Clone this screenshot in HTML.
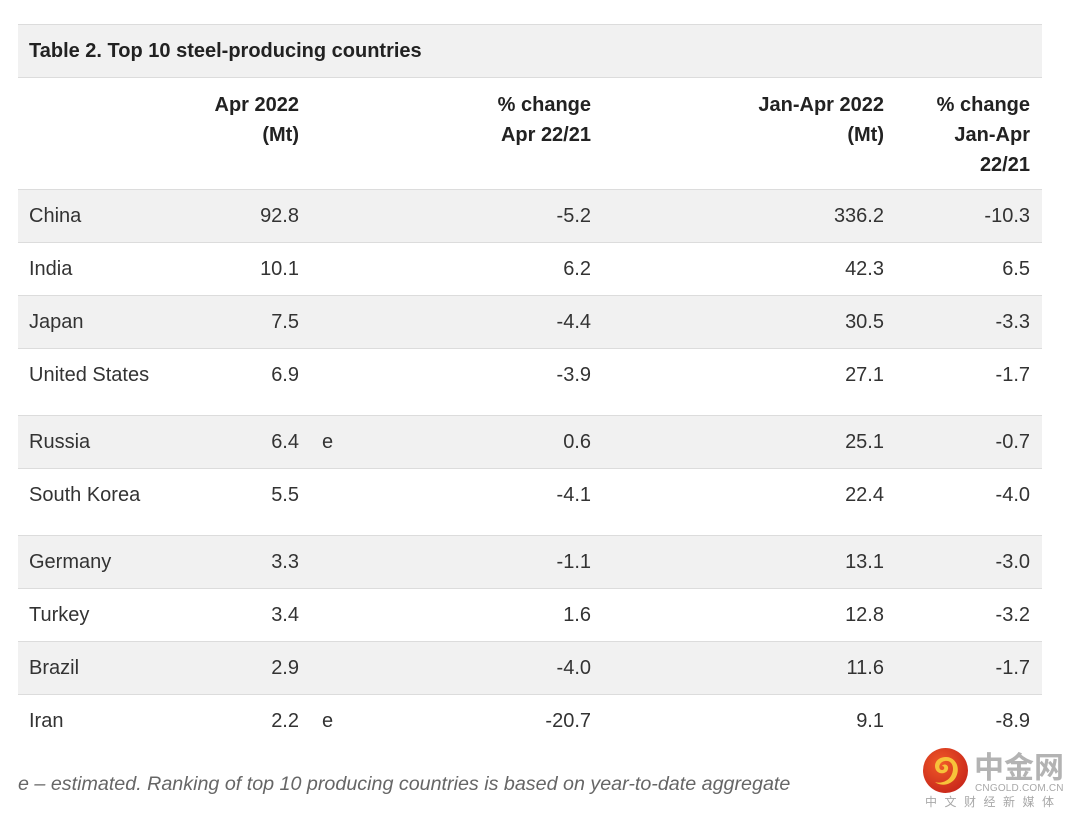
<!DOCTYPE html>
<html>
<head>
<meta charset="utf-8">
<style>
html,body{margin:0;padding:0;background:#fff;}
body{width:1080px;height:821px;position:relative;overflow:hidden;font-family:"Liberation Sans",Arial,sans-serif;color:#333;}
.row{position:absolute;left:18px;width:1024px;border-top:1px solid #dcdcdc;box-sizing:border-box;}
.g{background:#f1f1f1;}
.t{position:absolute;font-size:20px;line-height:30px;white-space:nowrap;}
.r{text-align:right;}
.b{font-weight:bold;color:#222;}
.c0{left:11px;}
.c1{right:743px;}
.ce{left:304px;}
.c2{right:451px;}
.c3{right:158px;}
.c4{right:12px;}
.foot{position:absolute;left:18px;top:769px;font-size:19.7px;line-height:30px;font-style:italic;color:#666;white-space:nowrap;}
</style>
</head>
<body>
<div class="row g" style="top:24px;height:54px;">
  <div class="t b" style="left:11px;top:11px;">Table 2. Top 10 steel-producing countries</div>
</div>
<div class="row" style="top:77px;height:113px;">
  <div class="t b r c1" style="top:12px;">Apr 2022<br>(Mt)</div>
  <div class="t b r c2" style="top:12px;">% change<br>Apr 22/21</div>
  <div class="t b r c3" style="top:12px;">Jan-Apr 2022<br>(Mt)</div>
  <div class="t b r c4" style="top:12px;">% change<br>Jan-Apr<br>22/21</div>
</div>

<div class="row g" style="top:189px;height:54px;">
  <div class="t c0" style="top:11px;">China</div><div class="t r c1" style="top:11px;">92.8</div>
  <div class="t r c2" style="top:11px;">-5.2</div><div class="t r c3" style="top:11px;">336.2</div><div class="t r c4" style="top:11px;">-10.3</div>
</div>
<div class="row" style="top:242px;height:54px;">
  <div class="t c0" style="top:11px;">India</div><div class="t r c1" style="top:11px;">10.1</div>
  <div class="t r c2" style="top:11px;">6.2</div><div class="t r c3" style="top:11px;">42.3</div><div class="t r c4" style="top:11px;">6.5</div>
</div>
<div class="row g" style="top:295px;height:54px;">
  <div class="t c0" style="top:11px;">Japan</div><div class="t r c1" style="top:11px;">7.5</div>
  <div class="t r c2" style="top:11px;">-4.4</div><div class="t r c3" style="top:11px;">30.5</div><div class="t r c4" style="top:11px;">-3.3</div>
</div>
<div class="row" style="top:348px;height:68px;">
  <div class="t c0" style="top:11px;">United States</div><div class="t r c1" style="top:11px;">6.9</div>
  <div class="t r c2" style="top:11px;">-3.9</div><div class="t r c3" style="top:11px;">27.1</div><div class="t r c4" style="top:11px;">-1.7</div>
</div>
<div class="row g" style="top:415px;height:54px;">
  <div class="t c0" style="top:11px;">Russia</div><div class="t r c1" style="top:11px;">6.4</div><div class="t ce" style="top:11px;">e</div>
  <div class="t r c2" style="top:11px;">0.6</div><div class="t r c3" style="top:11px;">25.1</div><div class="t r c4" style="top:11px;">-0.7</div>
</div>
<div class="row" style="top:468px;height:68px;">
  <div class="t c0" style="top:11px;">South Korea</div><div class="t r c1" style="top:11px;">5.5</div>
  <div class="t r c2" style="top:11px;">-4.1</div><div class="t r c3" style="top:11px;">22.4</div><div class="t r c4" style="top:11px;">-4.0</div>
</div>
<div class="row g" style="top:535px;height:54px;">
  <div class="t c0" style="top:11px;">Germany</div><div class="t r c1" style="top:11px;">3.3</div>
  <div class="t r c2" style="top:11px;">-1.1</div><div class="t r c3" style="top:11px;">13.1</div><div class="t r c4" style="top:11px;">-3.0</div>
</div>
<div class="row" style="top:588px;height:54px;">
  <div class="t c0" style="top:11px;">Turkey</div><div class="t r c1" style="top:11px;">3.4</div>
  <div class="t r c2" style="top:11px;">1.6</div><div class="t r c3" style="top:11px;">12.8</div><div class="t r c4" style="top:11px;">-3.2</div>
</div>
<div class="row g" style="top:641px;height:54px;">
  <div class="t c0" style="top:11px;">Brazil</div><div class="t r c1" style="top:11px;">2.9</div>
  <div class="t r c2" style="top:11px;">-4.0</div><div class="t r c3" style="top:11px;">11.6</div><div class="t r c4" style="top:11px;">-1.7</div>
</div>
<div class="row" style="top:694px;height:54px;">
  <div class="t c0" style="top:11px;">Iran</div><div class="t r c1" style="top:11px;">2.2</div><div class="t ce" style="top:11px;">e</div>
  <div class="t r c2" style="top:11px;">-20.7</div><div class="t r c3" style="top:11px;">9.1</div><div class="t r c4" style="top:11px;">-8.9</div>
</div>

<div class="foot">e – estimated. Ranking of top 10 producing countries is based on year-to-date aggregate</div>

<!-- watermark -->
<svg style="position:absolute;left:922px;top:747px;" width="48" height="48" viewBox="0 0 48 48">
  <defs>
    <radialGradient id="rg" cx="40%" cy="35%" r="70%">
      <stop offset="0" stop-color="#f05a28"/>
      <stop offset="1" stop-color="#c8261a"/>
    </radialGradient>
  </defs>
  <circle cx="23.5" cy="23.5" r="22.5" fill="url(#rg)"/>
  <path d="M24 10 C15 10 11 17 14 23 C17 28 25 27 26 22 C27 18 22 16 20 19 C23 19 23 23 20 23 C16 23 16 15 23 14 C31 13 33 22 29 29 C26 34 19 37 13 35 C19 40 30 38 34 30 C39 20 33 10 24 10 Z" fill="#f7c23a"/>
</svg>
<div style="position:absolute;left:974px;top:747px;font-family:'Noto Sans CJK SC',sans-serif;font-weight:bold;font-size:30px;line-height:36px;color:#b3b3b3;white-space:nowrap;">中金网</div>
<div style="position:absolute;left:975px;top:783px;font-family:'Liberation Sans',sans-serif;font-size:10px;line-height:12px;letter-spacing:0.2px;color:#a8a8a8;white-space:nowrap;">CNGOLD.COM.CN</div>
<div style="position:absolute;left:925px;top:795px;font-family:'Noto Sans CJK SC',sans-serif;font-size:12px;line-height:14px;letter-spacing:7.5px;color:#a8a8a8;white-space:nowrap;">中文财经新媒体</div>
</body>
</html>
